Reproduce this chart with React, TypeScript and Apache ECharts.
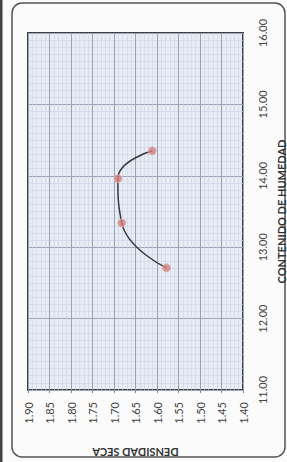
import React, { useEffect, useRef } from "react";
import * as echarts from "echarts";

// Dry density (g/cm3) vs moisture content (%)
const densidadSeca = [1.578, 1.682, 1.691, 1.611];
const contenidoHumedad = [12.71, 13.34, 13.96, 14.35];
const densidadTicks = { min: 1.4, max: 1.9, interval: 0.05 };
const humedadTicks = { min: 11, max: 16, interval: 1 };
const xName = "DENSIDAD SECA";
const yName = "CONTENIDO DE HUMEDAD";

export default function App() {
  const ref = useRef<HTMLDivElement>(null);
  useEffect(() => {
    document.body.style.margin = "0";
    const chart = echarts.init(ref.current!, undefined, { renderer: "svg" });
    const pts = densidadSeca.map((d, i) => [d, contenidoHumedad[i]]);
    const font = "Lato, 'Liberation Sans', sans-serif";
    chart.setOption({
      animation: false,
      backgroundColor: "#fbfbfb",
      grid: {
        left: 28,
        right: 44,
        top: 33,
        bottom: 72,
        outerBoundsMode: "none",
        containLabel: false,
        show: true,
        backgroundColor: "#e7ecf4",
        borderColor: "#3e3e3e",
        borderWidth: 2,
      },
      xAxis: {
        type: "value",
        min: densidadTicks.min,
        max: densidadTicks.max,
        interval: densidadTicks.interval,
        inverse: true,
        position: "bottom",
        name: xName,
        nameLocation: "middle",
        nameGap: 57,
        nameRotate: 180,
        nameTextStyle: { fontFamily: font, fontWeight: "bold", fontSize: 11, color: "#333" },
        axisLine: { show: false },
        axisTick: { show: true, length: 3, lineStyle: { color: "#888" } },
        axisLabel: {
          rotate: 90,
          margin: 12,
          fontSize: 11,
          fontFamily: font,
          color: "#444",
          formatter: (v: number) => v.toFixed(2),
        },
        splitLine: { show: true, lineStyle: { color: "#9aa4b6", width: 1 } },
        minorTick: { show: false, splitNumber: 5 },
        minorSplitLine: { show: true, lineStyle: { color: "#ccd4e3", width: 0.6 } },
      },
      yAxis: {
        type: "value",
        min: humedadTicks.min,
        max: humedadTicks.max,
        interval: humedadTicks.interval,
        position: "right",
        name: yName,
        nameLocation: "middle",
        nameGap: 27,
        nameRotate: 90,
        nameTextStyle: { fontFamily: font, fontWeight: "bold", fontSize: 11, color: "#333" },
        axisLine: { show: false },
        axisTick: { show: false },
        axisLabel: {
          rotate: 90,
          margin: 14,
          fontSize: 11,
          fontFamily: font,
          color: "#444",
          formatter: (v: number) => v.toFixed(2),
        },
        splitLine: { show: true, lineStyle: { color: "#9aa4b6", width: 1 } },
        minorTick: { show: false, splitNumber: 10 },
        minorSplitLine: { show: true, lineStyle: { color: "#ccd4e3", width: 0.6 } },
      },
      series: [
        {
          type: "line",
          data: pts,
          smooth: 0.5,
          symbol: "circle",
          symbolSize: 8,
          lineStyle: { color: "#3a3a3a", width: 1.5 },
          itemStyle: { color: "rgba(210,125,130,0.8)", borderColor: "rgba(230,175,170,0.9)", borderWidth: 1 },
        },
      ],
      graphic: [
        {
          type: "rect",
          shape: { x: 12, y: 3, width: 273, height: 454, r: 10 },
          style: { fill: "none", stroke: "#555", lineWidth: 1.5 },
          silent: true,
        },
        {
          type: "rect",
          shape: { x: 0, y: 0, width: 2.5, height: 462 },
          style: { fill: "#444" },
          silent: true,
        },
      ],
    });
    return () => chart.dispose();
  }, []);
  return <div ref={ref} style={{ width: 287, height: 462 }} />;
}
